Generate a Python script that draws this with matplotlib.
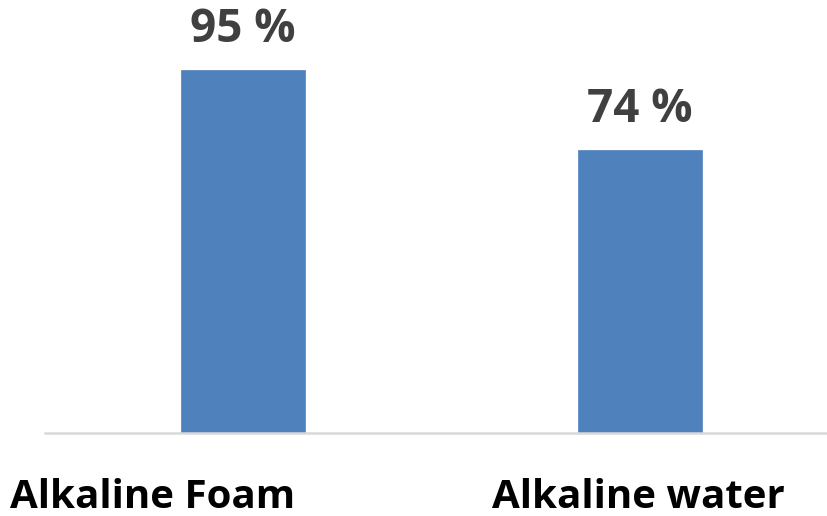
import matplotlib.pyplot as plt

categories = ['Alkaline Foam', 'Alkaline water']
values = [95, 74]
value_labels = ['95 %', '74 %']

plt.rcParams['font.family'] = ['Open Sans', 'DejaVu Sans']

fig = plt.figure(figsize=(8.27, 5.16), dpi=100)
ax = fig.add_axes([45 / 827, 83 / 516, 782 / 827, 433 / 516])

x = [0, 1]
bars = ax.bar(x, values, width=0.312, color='#4F81BD', edgecolor='#4F81BD', linewidth=0.5)

for b, lab in zip(bars, value_labels):
    ax.annotate(lab, (b.get_x() + b.get_width() / 2, b.get_height()),
                xytext=(0, 12.5), textcoords='offset points',
                ha='center', va='bottom', fontsize=33, fontweight='bold',
                color='#404040')

ax.set_xlim(-0.499, 1.471)
ax.set_ylim(0, 113.35)

for s in ['top', 'right', 'left']:
    ax.spines[s].set_visible(False)
ax.spines['bottom'].set_color('#D9D9D9')
ax.spines['bottom'].set_linewidth(1.8)
ax.set_yticks([])
ax.set_xticks([])

# category labels sit below the axis, first one shifted left like the original
label_px = [153, 638]
for lab, px in zip(categories, label_px):
    fig.text(px / 827, 1 - 498 / 516, lab, ha='center', va='center',
             fontsize=29, fontweight='bold', color='black')

plt.savefig('out.png', dpi=100)
plt.close()
